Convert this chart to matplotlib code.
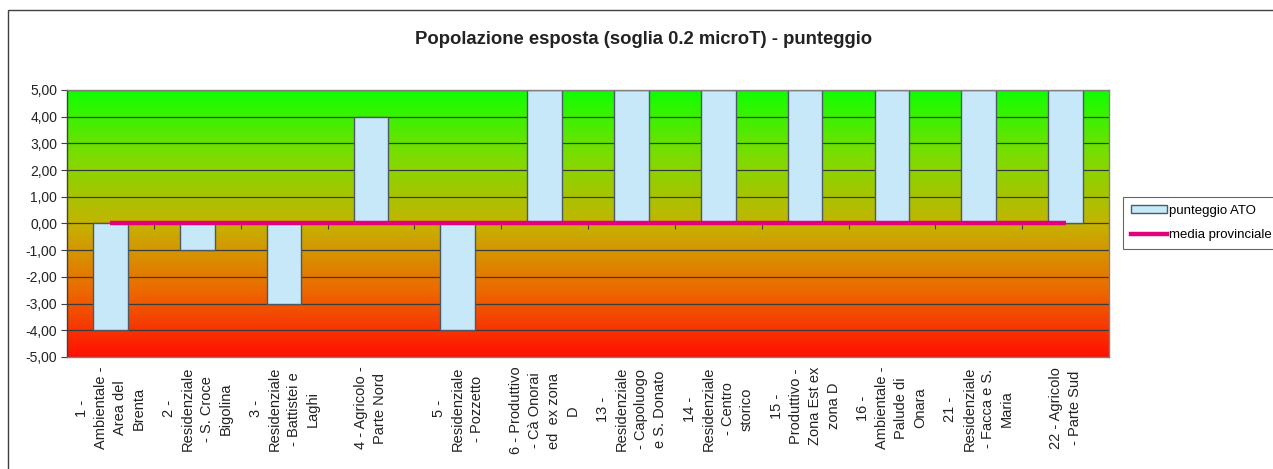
import numpy as np
import matplotlib
matplotlib.use("Agg")
import matplotlib.pyplot as plt
from matplotlib.colors import LinearSegmentedColormap
from matplotlib.patches import Rectangle
from matplotlib.lines import Line2D
from matplotlib.ticker import FuncFormatter

plt.rcParams['font.family'] = ['Liberation Sans', 'DejaVu Sans']

categories = [
    "1 -\nAmbientale -\nArea del\nBrenta",
    "2 -\nResidenziale\n- S. Croce\nBigolina",
    "3 -\nResidenziale\n- Battistei e\nLaghi",
    "4 - Agricolo -\nParte Nord",
    "5 -\nResidenziale\n- Pozzetto",
    "6 - Produttivo\n- Cà Onorai\ned  ex zona\nD",
    "13 -\nResidenziale\n- Capoluogo\ne S. Donato",
    "14 -\nResidenziale\n- Centro\nstorico",
    "15 -\nProduttivo -\nZona Est ex\nzona D",
    "16 -\nAmbientale -\nPalude di\nOnara",
    "21 -\nResidenziale\n- Facca e S.\nMaria",
    "22 - Agricolo\n- Parte Sud",
]
punteggio_ato = [-4, -1, -3, 4, -4, 5, 5, 5, 5, 5, 5, 5]
media_provinciale = [0, 0, 0, 0, 0, 0, 0, 0, 0, 0, 0, 0]
y_ticks = [-5, -4, -3, -2, -1, 0, 1, 2, 3, 4, 5]

W, H = 1273, 469
fig = plt.figure(figsize=(W / 100, H / 100), dpi=100)
fig.patch.set_facecolor('white')

# outer chart frame
fig.add_artist(Rectangle((8 / W, -0.1), 1.2, (H - 10) / H + 0.1,
                         transform=fig.transFigure, fill=False,
                         edgecolor='#404040', linewidth=1.0))

left, right = 67 / W, 1109 / W
bottom, top = (H - 357) / H, (H - 90) / H
ax = fig.add_axes([left, bottom, right - left, top - bottom])

n = len(categories)
x = np.arange(n)
ymin, ymax = y_ticks[0], y_ticks[-1]
ax.set_xlim(-0.5, n - 0.5)
ax.set_ylim(ymin, ymax)

# gradient background
cmap = LinearSegmentedColormap.from_list(
    'bg', [(0.0, '#FF1000'), (0.25, '#EC6A00'), (0.5, '#C4B400'),
           (0.75, '#7EDC00'), (1.0, '#10FF00')])
grad = np.linspace(0, 1, 256).reshape(-1, 1)
ax.imshow(grad, cmap=cmap, aspect='auto', origin='lower',
          extent=[-0.5, n - 0.5, ymin, ymax], zorder=0, interpolation='bilinear')

for yv in y_ticks:
    ax.axhline(yv, color='#3a3a3a', linewidth=0.9, zorder=1)

ax.bar(x, punteggio_ato, width=0.4, color='#C6E8F8', edgecolor='#4a5a66',
       linewidth=1.0, zorder=2, label='punteggio ATO')
ax.plot(x, media_provinciale, color='#E4007C', linewidth=3.2, zorder=3,
        solid_capstyle='butt', label='media provinciale')

ax.set_yticks(y_ticks)
ax.yaxis.set_major_formatter(FuncFormatter(lambda v, p: f"{v:.2f}".replace('.', ',')))
ax.tick_params(axis='y', direction='out', length=4, width=0.8, colors='#404040',
               labelsize=10, labelcolor='#222222', pad=3)

ax.set_xticks(x)
ax.set_xticklabels(categories, rotation=90, ha='center', va='top',
                   multialignment='center', fontsize=10.5, color='#222222',
                   linespacing=1.45)
ax.tick_params(axis='x', length=0, pad=7)

# category tick marks on the zero line
sec = ax.secondary_xaxis((0 - ymin) / (ymax - ymin))
sec.set_xticks(np.arange(n + 1) - 0.5)
sec.set_xticklabels([])
sec.tick_params(axis='x', direction='in', length=4, width=0.8, colors='#404040')
sec.spines['bottom'].set_visible(False)
sec.spines['top'].set_visible(False)

for s in ax.spines.values():
    s.set_color('#808080')
    s.set_linewidth(1.0)
ax.spines['left'].set_color('#404040')

fig.text(644 / W, (H - 40) / H,
         "Popolazione esposta (soglia 0.2 microT) - punteggio",
         ha='center', va='center', fontsize=13.3, fontweight='bold', color='#222222')

handles = [Rectangle((0, 0), 1, 1, facecolor='#C6E8F8', edgecolor='#4a5a66', linewidth=1.0),
           Line2D([0], [0], color='#E4007C', linewidth=3.2)]
leg = fig.legend(handles, ['punteggio ATO', 'media provinciale'],
                 loc='upper left', bbox_to_anchor=(1123 / W, (H - 197) / H),
                 fontsize=9.5, frameon=True, fancybox=False, edgecolor='#404040',
                 handlelength=2.7, handleheight=0.6, handletextpad=0.2,
                 borderpad=0.6, labelspacing=0.95, borderaxespad=0)
leg.get_frame().set_linewidth(0.8)

fig.savefig('out.png', dpi=100)
